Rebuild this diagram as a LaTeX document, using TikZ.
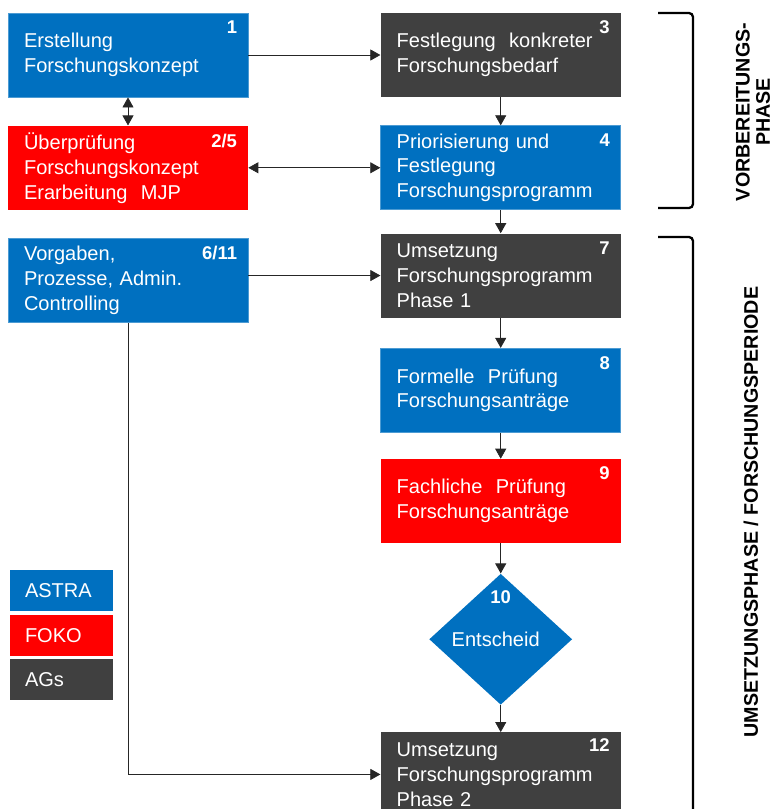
\documentclass[tikz,border=0pt]{standalone}
\usepackage{fontspec}
\setmainfont{Liberation Sans}
\usepackage{tikz}
\usetikzlibrary{arrows.meta,positioning,shapes.geometric}
\definecolor{astra}{RGB}{0,112,192}
\definecolor{foko}{RGB}{255,0,0}
\definecolor{ags}{RGB}{64,64,64}

\begin{document}
\begin{tikzpicture}[x=0.02cm,y=-0.02cm,
    font=\fontsize{11.4}{14.2}\selectfont,
    box/.style={rectangle,minimum width=4.8cm,minimum height=1.68cm,text width=4.16cm,
      inner xsep=0.32cm,align=left,text=white},
    blue/.style={box,fill=astra,draw=astra!70!white,line width=0.5pt},
    red/.style={box,fill=foko},
    grey/.style={box,fill=ags},
    dia/.style={diamond,minimum width=2.86cm,minimum height=2.62cm,inner sep=0pt,fill=astra},
    num/.style={anchor=north east,inner sep=0pt,text=white,
      font=\fontsize{10.5}{12}\selectfont\bfseries,xshift=-0.22cm,yshift=-0.16cm},
    leg/.style={rectangle,minimum width=2.06cm,minimum height=0.82cm,text width=1.46cm,
      inner xsep=0.3cm,align=left,text=white},
    phase/.style={rotate=90,align=center,font=\fontsize{11.2}{11.6}\selectfont\bfseries},
    brk/.style={line width=1.3pt,rounded corners=0.08cm},
    >={Triangle[length=0.2cm,width=0.22cm]}]
  \useasboundingbox (0,0) rectangle (773,809);
  % left column
  \node[blue] (b1) at (128,55) {Erstellung\\Forschungskonzept};
  \node[red,below=0.56cm of b1] (b25) {Überprüfung\\Forschungskonzept\\Erarbeitung~~MJP};
  \node[blue,below=0.56cm of b25] (b611) {Vorgaben,\\Prozesse, Admin.\\Controlling};
  % right column
  \node[grey,right=2.64cm of b1] (b3) {Festlegung~~konkreter\\Forschungsbedarf};
  \node[blue,right=2.64cm of b25] (b4) {Priorisierung und\\Festlegung\\Forschungsprogramm};
  \node[grey,below=0.46cm of b4] (b7) {Umsetzung\\Forschungsprogramm\\Phase 1};
  \node[blue,below=0.6cm of b7] (b8) {Formelle~~Prüfung\\Forschungsanträge};
  \node[red,below=0.52cm of b8] (b9) {Fachliche~~Prüfung\\Forschungsanträge};
  \node[dia,below=0.6cm of b9] (d10) {};
  \node[text=white] (ent) at ([xshift=-0.1cm]d10) {Entscheid};
  \node[text=white,font=\fontsize{10.5}{12}\selectfont\bfseries] (n10) at ([yshift=-0.48cm]d10.north) {10};
  \node[grey,below=0.54cm of d10] (b12) {Umsetzung\\Forschungsprogramm\\Phase 2};
  % numbers
  \node[num] (n1) at (b1.north east) {1};
  \node[num] (n25) at (b25.north east) {2/5};
  \node[num] (n611) at (b611.north east) {6/11};
  \node[num] (n3) at (b3.north east) {3};
  \node[num] (n4) at (b4.north east) {4};
  \node[num] (n7) at (b7.north east) {7};
  \node[num] (n8) at (b8.north east) {8};
  \node[num] (n9) at (b9.north east) {9};
  \node[num,yshift=0.04cm] (n12) at (b12.north east) {12};
  % legend
  \node[leg,fill=astra] (lastra) at (61.5,590.5) {ASTRA};
  \node[leg,fill=foko,below=0.06cm of lastra] (lfoko) {FOKO};
  \node[leg,fill=ags,below=0.06cm of lfoko] (lags) {AGs};
  % connectors
  \draw[->,black!85] (b1) -- (b3);
  \draw[<->,black!85] (b1) -- (b25);
  \draw[<->,black!85] (b25) -- (b4);
  \draw[->,black!85] (b3) -- (b4);
  \draw[->,black!85] (b4) -- (b7);
  \draw[->,black!85] (b611.east |- b7) -- (b7);
  \draw[->,black!85] (b7) -- (b8);
  \draw[->,black!85] (b8) -- (b9);
  \draw[->,black!85] (b9) -- (d10);
  \draw[->,black!85] (d10) -- (b12);
  \draw[->,black!85] (b611.south) |- (b12.west);
  % phases
  \draw[brk] (658,13) -- (693,13) -- (693,208) -- (658,208);
  \draw[brk] (658,237) -- (693,237) -- (693,812);
  \node[phase] (ph1) at (753,112) {VORBEREITUNGS-\\PHASE};
  \node[phase] (ph2) at (751,512) {UMSETZUNGSPHASE / FORSCHUNGSPERIODE};
\end{tikzpicture}
\end{document}
